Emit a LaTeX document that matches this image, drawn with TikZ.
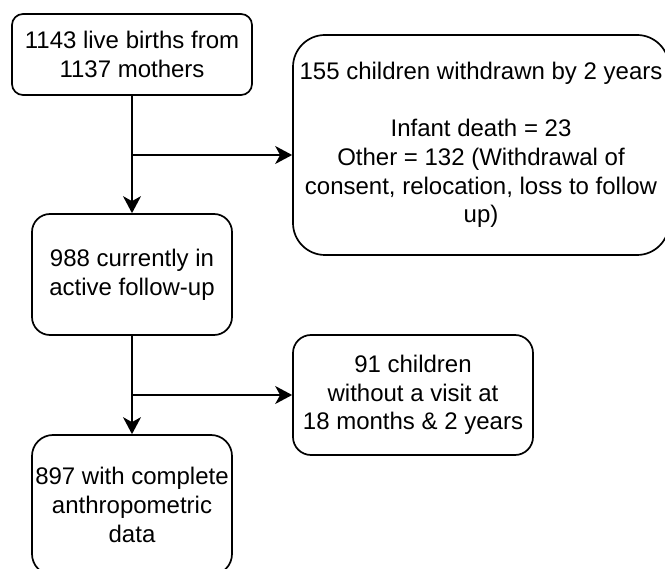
\documentclass[tikz,border=0pt]{standalone}
\usepackage{fontspec}
\setmainfont{Liberation Sans}
\usetikzlibrary{arrows.meta}
\tikzset{
  flowbox/.style={draw=black, line width=1.7pt, fill=white, align=center, inner sep=0pt,
    font=\fontsize{24pt}{28.6pt}\selectfont},
  flowarrow/.style={line width=1.7pt, -{Stealth[length=17pt, width=18pt, inset=5pt]}},
}
\begin{document}
\begin{tikzpicture}[x=1pt, y=-1pt]
\useasboundingbox (0,0) rectangle (665,569);
\clip (0,0) rectangle (665,569);
\node[flowbox, minimum width=240pt, minimum height=81pt, rounded corners=11pt] (births) at (132,54.5)
  {1143 live births from\\1137 mothers};
\node[flowbox, minimum width=376pt, minimum height=220pt, rounded corners=32pt] (withdrawn) at (481,145)
  {155 children withdrawn by 2 years\\\mbox{}\\Infant death = 23\\Other = 132 (Withdrawal of\\consent, relocation, loss to follow\\up)};
\node[flowbox, minimum width=200pt, minimum height=121pt, rounded corners=18pt] (active) at (132,274.5)
  {988 currently in\\active follow-up};
\node[flowbox, minimum width=240pt, minimum height=120pt, rounded corners=18pt] (novisit) at (413,395)
  {91 children\\without a visit at\\18 months \& 2 years};
\node[flowbox, minimum width=200pt, minimum height=140pt, rounded corners=21pt] (complete) at (132,505)
  {897 with complete\\anthropometric\\data};
\coordinate (split1) at (132,155);
\coordinate (split2) at (132,395);
\draw[flowarrow] (births.south) -- (active.north);
\draw[flowarrow] (split1) -- (split1 -| withdrawn.west);
\draw[flowarrow] (active.south) -- (complete.north);
\draw[flowarrow] (split2) -- (novisit.west);
\end{tikzpicture}
\end{document}
